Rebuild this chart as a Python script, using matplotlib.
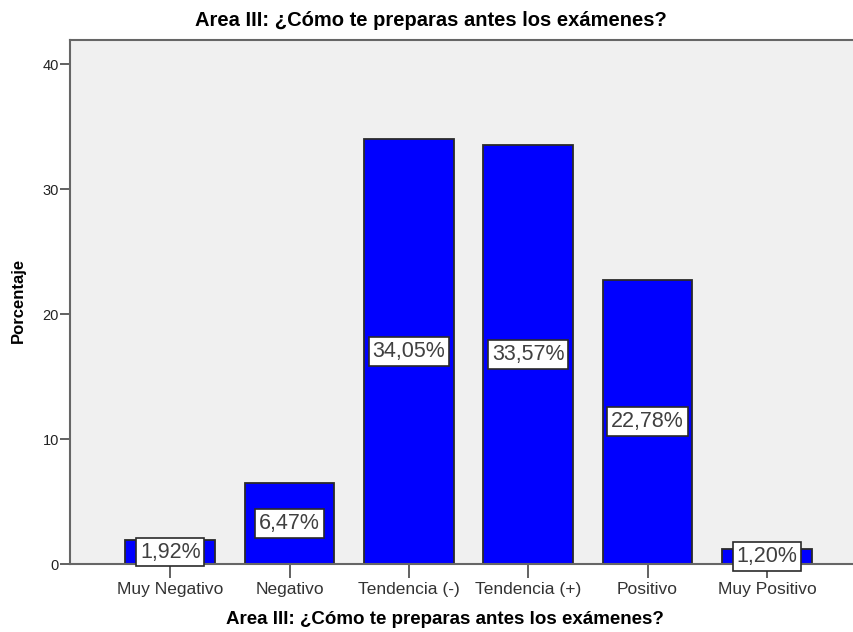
import matplotlib.pyplot as plt
import numpy as np

plt.rcParams['font.family'] = ['Liberation Sans', 'DejaVu Sans']

categorias = ['Muy Negativo', 'Negativo', 'Tendencia (-)', 'Tendencia (+)', 'Positivo', 'Muy Positivo']
porcentajes = [1.92, 6.47, 34.05, 33.57, 22.78, 1.20]
etiquetas = ['1,92%', '6,47%', '34,05%', '33,57%', '22,78%', '1,20%']
titulo = 'Area III: ¿Cómo te preparas antes los exámenes?'

W, H = 854, 632
fig = plt.figure(figsize=(W / 100, H / 100), dpi=100)
ax = fig.add_axes([70 / W, 68 / H, 784 / W, 524.5 / H])
ax.set_facecolor('#f0f0f0')

x = np.arange(len(categorias))
ax.bar(x, porcentajes, width=0.75, color='#0000ff', edgecolor='#2a2a2a', linewidth=1.3, zorder=2)

# etiquetas en el centro de cada barra
for xi, v, t in zip(x, porcentajes, etiquetas):
    ax.text(xi, v / 2, t, ha='center', va='center', fontsize=15.5, color='#404040', zorder=3,
            bbox=dict(boxstyle='square,pad=0.18', facecolor='white', edgecolor='#2a2a2a', linewidth=1.2))

ax.set_xlim(-0.84, 5.73)
ax.set_ylim(0, 42)
ax.set_yticks([0, 10, 20, 30, 40])
ax.set_xticks(x)
ax.set_xticklabels(categorias, fontsize=12.5, color='#333333')
ax.tick_params(axis='y', labelsize=10.5, length=7, width=1.3, pad=1, color='#555555', labelcolor='#222222')
ax.tick_params(axis='x', length=10, width=1.3, pad=3, color='#555555')

for s in ['left', 'bottom', 'top']:
    ax.spines[s].set_color('#666666')
    ax.spines[s].set_linewidth(1.5)
ax.spines['right'].set_visible(False)

fig.text(431 / W, 1 - 21 / H, titulo, ha='center', va='center', fontsize=14.5, fontweight='bold')
fig.text(445 / W, 1 - 620 / H, titulo, ha='center', va='center', fontsize=13.5, fontweight='bold')
fig.text(18 / W, 1 - 300 / H, 'Porcentaje', ha='center', va='center', rotation=90,
         fontsize=12, fontweight='bold')

fig.savefig('out.png', dpi=100)
